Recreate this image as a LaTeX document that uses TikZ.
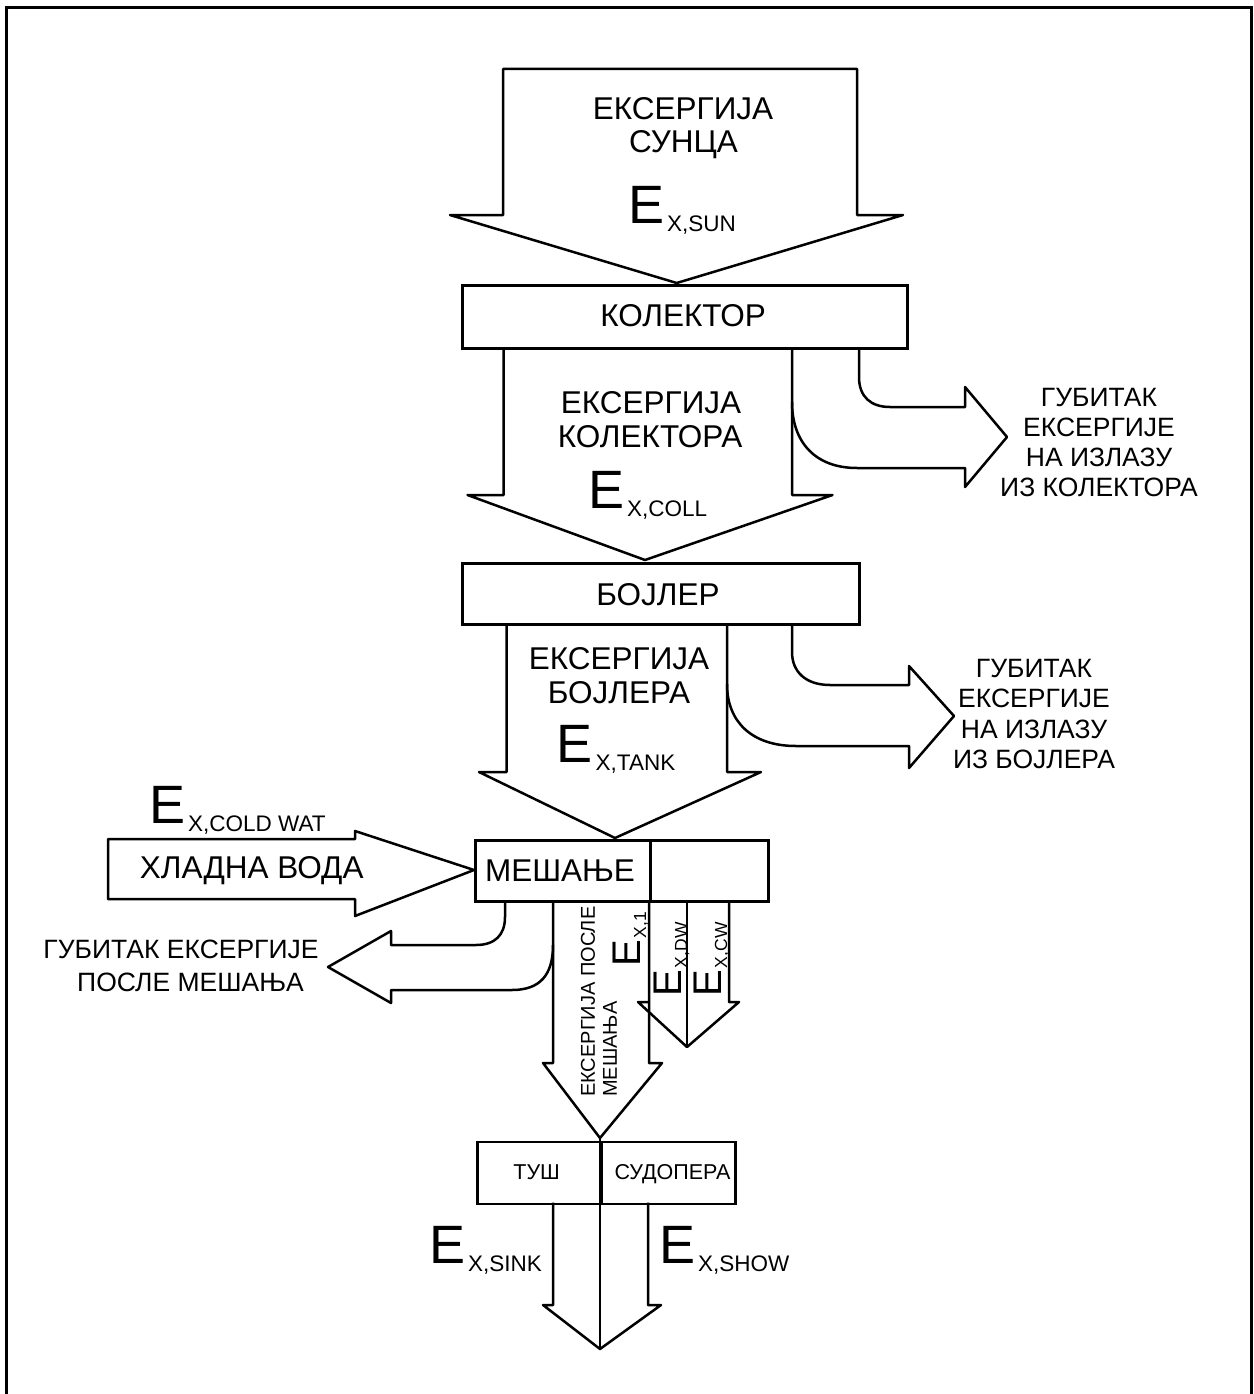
\documentclass[tikz,border=0pt]{standalone}
\usepackage{fontspec}
\setmainfont{Liberation Sans}
\newcommand{\fs}[1]{\fontsize{#1}{#1}\selectfont}
\newcommand{\ex}[1]{{\fs{54}E}\hspace{3pt}\raisebox{-8pt}{\fs{22.5}#1}}
\newcommand{\exr}[1]{{\fs{40}E}\hspace{2pt}\raisebox{-6pt}{\fs{17.5}#1}}
\begin{document}
\begin{tikzpicture}[x=1pt,y=-1pt,
  ln/.style={line width=2.5pt,line join=round},
  box/.style={draw,line width=2.5pt,rectangle,inner sep=0,anchor=north west},
  lbl/.style={inner sep=0,anchor=base,font=\fs{31.5}},
  losst/.style={inner sep=0,anchor=base,font=\fs{26.5}},
  smallt/.style={inner sep=0,anchor=base,font=\fs{21.5}},
  bigE/.style={inner sep=0,anchor=base west},
  rotE/.style={inner sep=0,anchor=base west,rotate=90}]
\useasboundingbox (0,0) rectangle (1253,1394);
% outer frame
\draw[line width=3pt] (6.5,1400) -- (6.5,7.5) -- (1251.5,7.5) -- (1251.5,1400);

% ---- boxes ----
\node[box,minimum width=445pt,minimum height=63pt] (coll) at (461,284) {};
\node[box,minimum width=397pt,minimum height=61pt] (boil) at (461,562) {};
\node[box,minimum width=175pt,minimum height=61pt] (mixL) at (474,839) {};
\node[box,minimum width=118pt,minimum height=61pt] (mixR) at (649,839) {};
\node[box,minimum width=124pt,minimum height=62pt] (tus) at (476,1140.5) {};
\node[box,minimum width=134pt,minimum height=62pt] (sud) at (600,1140.5) {};

\node[lbl] (tcoll) at (683,326.5) {КОЛЕКТОР};
\node[lbl] (tboil) at (658,605) {БОЈЛЕР};
\node[lbl] (tmix) at (560,881.5) {МЕШАЊЕ};
\node[smallt] (ttus) at (536.7,1179) {ТУШ};
\node[smallt] (tsud) at (672.5,1179) {СУДОПЕРА};

% ---- exergy of the sun ----
\draw[ln] (503,215) -- (503,69) -- (857,69) -- (857,215) -- (903,215)
  -- (676.7,283) -- (450,215) -- cycle;
\node[lbl] (sun1) at (683,120) {ЕКСЕРГИЈА};
\node[lbl] (sun2) at (683.5,153) {СУНЦА};
\node[bigE] (esun) at (628,223) {\ex{X,SUN}};

% ---- exergy of the collector ----
\draw[ln] (503.5,347) -- (503.5,495) -- (467.5,495) -- (645,560)
  -- (832.5,495) -- (792,495) -- (792,347);
\node[lbl] (col1) at (651,413) {ЕКСЕРГИЈА};
\node[lbl] (col2) at (650,447) {КОЛЕКТОРА};
\node[bigE] (ecoll) at (588,508) {\ex{X,COLL}};

% collector loss
\draw[ln] (859,347) -- (859,377) .. controls (859,397) and (871,407) .. (890,407)
  -- (965,407) -- (965,387) -- (1007,437) -- (965,487) -- (965,468) -- (857,468)
  .. controls (815,468) and (792,442) .. (792,402);
\node[losst] (lc1) at (1099,406) {ГУБИТАК};
\node[losst] (lc2) at (1099,436) {ЕКСЕРГИЈЕ};
\node[losst] (lc3) at (1099,466.5) {НА ИЗЛАЗУ};
\node[losst] (lc4) at (1099,496.5) {ИЗ КОЛЕКТОРА};

% ---- exergy of the tank ----
\draw[ln] (506.7,623) -- (506.7,772) -- (479,772) -- (615,838)
  -- (761,772) -- (727,772) -- (727,623);
\node[lbl] (tk1) at (619,669.5) {ЕКСЕРГИЈА};
\node[lbl] (tk2) at (619,703) {БОЈЛЕРА};
\node[bigE] (etank) at (556.5,762) {\ex{X,TANK}};

% tank loss
\draw[ln] (792,623) -- (792,652) .. controls (792,672) and (806,685) .. (830,685)
  -- (909,685) -- (909,666) -- (954,716) -- (909,768) -- (909,746) -- (796,746)
  .. controls (752,746) and (727,722) .. (727,684);
\node[losst] (lt1) at (1034,677) {ГУБИТАК};
\node[losst] (lt2) at (1034,707.5) {ЕКСЕРГИЈЕ};
\node[losst] (lt3) at (1034,738) {НА ИЗЛАЗУ};
\node[losst] (lt4) at (1034,768.5) {ИЗ БОЈЛЕРА};

% ---- cold water ----
\draw[ln] (108,839) -- (355,839) -- (355,831) -- (474,870) -- (355,916)
  -- (355,899) -- (108,899) -- cycle;
\node[lbl] (cw) at (251.7,878) {ХЛАДНА ВОДА};
\node[bigE] (ecold) at (149,823) {\ex{X,COLD WAT}};

% mixing loss
\draw[ln] (505,900) -- (505,917) .. controls (505,935) and (495,945) .. (476,945)
  -- (391,945) -- (391,931) -- (328,967) -- (391,1003) -- (391,990) -- (512,990)
  .. controls (540,990) and (553,975) .. (553,945);
\node[losst] (lm1) at (181,958) {ГУБИТАК ЕКСЕРГИЈЕ};
\node[losst] (lm2) at (190.5,991) {ПОСЛЕ МЕШАЊА};

% ---- exergy after mixing ----
\draw[ln] (553,900) -- (553,1063) -- (543,1063) -- (600,1138) -- (662,1063)
  -- (649,1063) -- (649,900);
\node[inner sep=0,anchor=west,rotate=90,align=left,font=\fontsize{20}{22}\selectfont]
  (mixt) at (599,1097) {ЕКСЕРГИЈА ПОСЛЕ\\МЕШАЊА};
\node[rotE] (e1) at (640,967) {\exr{X,1}};

% dw / cw streams
\draw[ln] (649,1002) -- (638,1002) -- (687,1047) -- (739,1002) -- (729,1002) -- (729,900);
\draw[ln] (687,900) -- (687,1047);
\node[rotE] (edw) at (681,997) {\exr{X,DW}};
\node[rotE] (ecw) at (721,997) {\exr{X,CW}};

% ---- shower and sink ----
\draw[ln] (600,1138) -- (600,1349);
\draw[ln] (553,1202.5) -- (553,1305) -- (543,1305) -- (600,1349) -- (661,1305)
  -- (648,1305) -- (648,1202.5);
\node[bigE] (esink) at (429,1263.3) {\ex{X,SINK}};
\node[bigE] (eshow) at (659,1263) {\ex{X,SHOW}};
\end{tikzpicture}
\end{document}
